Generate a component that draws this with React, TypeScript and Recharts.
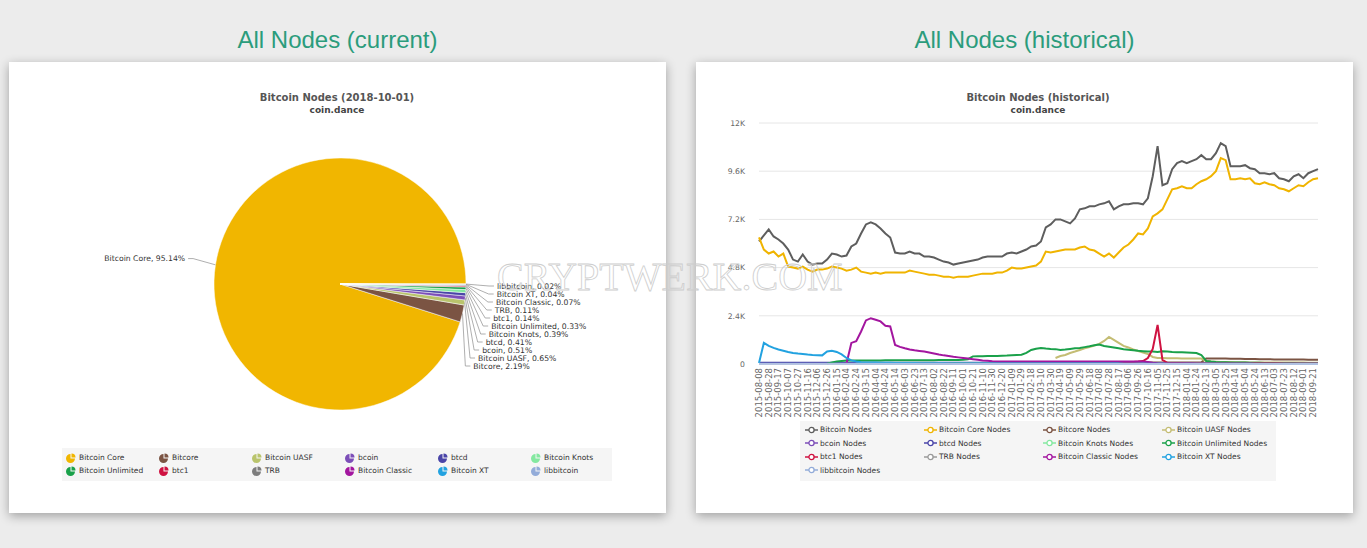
import React from 'react';
import { PieChart, Pie, Cell, Legend, LineChart, Line, XAxis, YAxis, CartesianGrid } from 'recharts';

const RAD = Math.PI / 180;

// snapshot 2018-10-01, share of all reachable nodes (%)
const clientNames = ['Bitcoin Core', 'Bitcore', 'Bitcoin UASF', 'bcoin', 'btcd', 'Bitcoin Knots', 'Bitcoin Unlimited', 'btc1', 'TRB', 'Bitcoin Classic', 'Bitcoin XT', 'libbitcoin'];
const clientShares = [95.14, 2.19, 0.65, 0.51, 0.41, 0.39, 0.33, 0.14, 0.11, 0.07, 0.04, 0.02];
const clientColors = ['#f1b600', '#7b5443', '#b9c46c', '#7c4eb8', '#4a45a8', '#84e8a0', '#1aa14a', '#cf1241', '#7d7d7d', '#a3169f', '#22a2e0', '#93acd9'];

// history: one sample every 10 days starting 2015-08-08, node counts in thousands
const firstDay = Date.UTC(2015, 7, 8);
const sampleCount = 116;
const historyDates = Array.from({ length: sampleCount }, (_, i) =>
  new Date(firstDay + i * 10 * 86400000).toISOString().slice(0, 10));

const nodeTotals = [
  6.1, 6.4, 6.7, 6.35, 6.2, 6.0, 5.7, 5.2, 5.1, 5.45,
  5.1, 4.95, 5.0, 5.0, 5.2, 5.5, 5.45, 5.35, 5.4, 5.85,
  6.0, 6.5, 6.95, 7.05, 6.95, 6.75, 6.5, 6.3, 5.55, 5.5,
  5.5, 5.6, 5.5, 5.5, 5.35, 5.35, 5.3, 5.2, 5.1, 5.05,
  4.95, 5.0, 5.05, 5.1, 5.15, 5.2, 5.3, 5.35, 5.35, 5.35,
  5.35, 5.5, 5.55, 5.5, 5.6, 5.7, 5.85, 5.9, 6.1, 6.8,
  6.95, 7.2, 7.2, 7.1, 7.0, 7.25, 7.7, 7.75, 7.85, 7.85,
  7.95, 8.0, 8.1, 7.7, 7.85, 7.95, 7.95, 8.0, 8.0, 7.95,
  8.25, 9.35, 10.85, 8.9, 9.0, 9.7, 10.0, 10.1, 10.0, 10.1,
  10.2, 10.4, 10.2, 10.2, 10.5, 11.0, 10.85, 9.85, 9.85, 9.85,
  9.9, 9.75, 9.7, 9.5, 9.5, 9.45, 9.5, 9.25, 9.2, 9.1,
  9.35, 9.45, 9.25, 9.5, 9.6, 9.7,
];
const coreNodes = [
  6.3, 5.7, 5.5, 5.6, 5.35, 5.5, 4.85, 4.8, 4.75, 4.85,
  4.7, 4.6, 4.7, 4.7, 4.75, 4.85, 4.8, 4.75, 4.65, 4.7,
  4.8, 4.6, 4.55, 4.5, 4.55, 4.5, 4.55, 4.55, 4.55, 4.55,
  4.55, 4.65, 4.6, 4.55, 4.5, 4.45, 4.45, 4.4, 4.35, 4.35,
  4.3, 4.35, 4.35, 4.35, 4.4, 4.45, 4.5, 4.5, 4.5, 4.55,
  4.55, 4.65, 4.8, 4.75, 4.75, 4.8, 4.85, 4.9, 5.1, 5.6,
  5.55, 5.6, 5.65, 5.7, 5.7, 5.7, 5.8, 5.85, 5.7, 5.65,
  5.5, 5.35, 5.5, 5.3, 5.55, 5.8, 5.95, 6.2, 6.5, 6.45,
  6.75, 7.35, 7.5, 7.7, 8.2, 8.7, 8.75, 8.85, 8.75, 8.75,
  8.95, 9.1, 9.2, 9.35, 9.6, 10.25, 10.15, 9.2, 9.2, 9.25,
  9.2, 9.25, 9.0, 8.95, 9.05, 8.95, 8.9, 8.75, 8.7, 8.6,
  8.75, 8.9, 8.85, 9.05, 9.2, 9.25,
];
const bitcoreNodes = [
  0.04, 0.04, 0.04, 0.04, 0.04, 0.04, 0.04, 0.04, 0.04, 0.04,
  0.04, 0.04, 0.04, 0.04, 0.04, 0.04, 0.04, 0.04, 0.04, 0.04,
  0.04, 0.04, 0.04, 0.04, 0.04, 0.04, 0.04, 0.04, 0.04, 0.04,
  0.04, 0.04, 0.04, 0.04, 0.04, 0.04, 0.04, 0.04, 0.04, 0.04,
  0.04, 0.04, 0.04, 0.04, 0.04, 0.04, 0.04, 0.04, 0.04, 0.04,
  0.04, 0.04, 0.04, 0.04, 0.04, 0.04, 0.04, 0.04, 0.04, 0.04,
  0.04, 0.04, 0.04, 0.04, 0.04, 0.04, 0.04, 0.04, 0.04, 0.04,
  0.05, 0.05, 0.05, 0.05, 0.05, 0.05, 0.05, 0.05, 0.05, 0.05,
  0.08, 0.08, 0.08, 0.08, 0.08, 0.08, 0.08, 0.08, 0.08, 0.08,
  0.08, 0.09, 0.28, 0.28, 0.27, 0.27, 0.27, 0.26, 0.26, 0.26,
  0.25, 0.25, 0.25, 0.24, 0.24, 0.24, 0.23, 0.23, 0.23, 0.22,
  0.22, 0.22, 0.22, 0.21, 0.21, 0.21,
];
// from sample 61
const uasfNodes = [
  0.3, 0.4, 0.45, 0.55, 0.62, 0.7, 0.78, 0.85, 0.92, 1.0,
  1.15, 1.35, 1.2, 1.05, 0.9, 0.82, 0.72, 0.65, 0.57, 0.5,
  0.35, 0.3, 0.3, 0.29, 0.29, 0.29, 0.28, 0.28, 0.28, 0.28,
  0.27, 0.15, 0.12, 0.11, 0.1, 0.1, 0.1, 0.09, 0.09, 0.09,
  0.08, 0.08, 0.08, 0.08, 0.08, 0.07, 0.07, 0.07, 0.07, 0.07,
  0.07, 0.07, 0.06, 0.06, 0.06,
];
// from sample 20
const bcoinNodes = [
  0.01, 0.01, 0.01, 0.01, 0.01, 0.01, 0.01, 0.01, 0.01, 0.01,
  0.02, 0.02, 0.02, 0.02, 0.02, 0.02, 0.02, 0.02, 0.02, 0.02,
  0.02, 0.02, 0.02, 0.02, 0.02, 0.02, 0.02, 0.02, 0.02, 0.02,
  0.03, 0.03, 0.03, 0.03, 0.03, 0.03, 0.03, 0.03, 0.03, 0.03,
  0.03, 0.03, 0.03, 0.03, 0.03, 0.03, 0.03, 0.03, 0.03, 0.03,
  0.04, 0.04, 0.04, 0.04, 0.04, 0.04, 0.04, 0.04, 0.04, 0.04,
  0.04, 0.04, 0.04, 0.04, 0.04, 0.04, 0.04, 0.04, 0.04, 0.04,
  0.05, 0.05, 0.05, 0.05, 0.05, 0.05, 0.05, 0.05, 0.05, 0.05,
  0.05, 0.05, 0.05, 0.05, 0.05, 0.05, 0.05, 0.05, 0.05, 0.05,
  0.05, 0.05, 0.05, 0.05, 0.05, 0.05,
];
const btcdNodes = [
  0.06, 0.06, 0.06, 0.06, 0.06, 0.06, 0.06, 0.06, 0.06, 0.06,
  0.06, 0.06, 0.06, 0.06, 0.06, 0.06, 0.06, 0.06, 0.06, 0.06,
  0.06, 0.06, 0.06, 0.06, 0.06, 0.06, 0.06, 0.06, 0.06, 0.06,
  0.06, 0.06, 0.06, 0.06, 0.06, 0.06, 0.06, 0.06, 0.06, 0.06,
  0.06, 0.06, 0.06, 0.06, 0.06, 0.06, 0.06, 0.06, 0.06, 0.06,
  0.06, 0.06, 0.06, 0.06, 0.06, 0.06, 0.06, 0.06, 0.06, 0.06,
  0.05, 0.05, 0.05, 0.05, 0.05, 0.05, 0.05, 0.05, 0.05, 0.05,
  0.05, 0.05, 0.05, 0.05, 0.05, 0.05, 0.05, 0.05, 0.05, 0.05,
  0.05, 0.05, 0.05, 0.05, 0.05, 0.05, 0.05, 0.05, 0.05, 0.05,
  0.04, 0.04, 0.04, 0.04, 0.04, 0.04, 0.04, 0.04, 0.04, 0.04,
  0.04, 0.04, 0.04, 0.04, 0.04, 0.04, 0.04, 0.04, 0.04, 0.04,
  0.04, 0.04, 0.04, 0.04, 0.04, 0.04,
];
// from sample 20
const knotsNodes = [
  0.01, 0.01, 0.01, 0.01, 0.01, 0.01, 0.01, 0.01, 0.01, 0.01,
  0.01, 0.01, 0.01, 0.01, 0.01, 0.01, 0.01, 0.01, 0.01, 0.01,
  0.02, 0.02, 0.02, 0.02, 0.02, 0.02, 0.02, 0.02, 0.02, 0.02,
  0.02, 0.02, 0.02, 0.02, 0.02, 0.02, 0.02, 0.02, 0.02, 0.02,
  0.03, 0.03, 0.03, 0.03, 0.03, 0.03, 0.03, 0.03, 0.03, 0.03,
  0.03, 0.03, 0.03, 0.03, 0.03, 0.03, 0.03, 0.03, 0.03, 0.03,
  0.03, 0.03, 0.03, 0.03, 0.03, 0.03, 0.03, 0.03, 0.03, 0.03,
  0.04, 0.04, 0.04, 0.04, 0.04, 0.04, 0.04, 0.04, 0.04, 0.04,
  0.04, 0.04, 0.04, 0.04, 0.04, 0.04, 0.04, 0.04, 0.04, 0.04,
  0.04, 0.04, 0.04, 0.04, 0.04, 0.04,
];
// from sample 14
const unlimitedNodes = [
  0.02, 0.08, 0.13, 0.15, 0.17, 0.17, 0.18, 0.18, 0.18, 0.18,
  0.18, 0.18, 0.19, 0.19, 0.19, 0.19, 0.19, 0.19, 0.19, 0.19,
  0.19, 0.19, 0.19, 0.2, 0.2, 0.2, 0.2, 0.2, 0.21, 0.24,
  0.38, 0.39, 0.39, 0.4, 0.4, 0.4, 0.41, 0.42, 0.44, 0.45,
  0.46, 0.55, 0.7, 0.76, 0.8, 0.77, 0.75, 0.74, 0.7, 0.72,
  0.75, 0.78, 0.8, 0.84, 0.88, 0.93, 0.97, 0.9, 0.86, 0.82,
  0.78, 0.74, 0.71, 0.69, 0.66, 0.64, 0.62, 0.62, 0.6, 0.64,
  0.62, 0.6, 0.59, 0.58, 0.57, 0.56, 0.55, 0.45, 0.15, 0.12,
  0.1, 0.09, 0.09, 0.08, 0.08, 0.07, 0.07, 0.06, 0.06, 0.06,
  0.05, 0.05, 0.05, 0.04, 0.04, 0.04, 0.04, 0.03, 0.03, 0.03,
  0.03, 0.03,
];
// from sample 74
const btc1Nodes = [
  0.03, 0.05, 0.08, 0.1, 0.12, 0.15, 0.3, 0.75, 1.95, 0.2,
  0.06, 0.05, 0.05, 0.05, 0.04, 0.04, 0.04, 0.04, 0.03, 0.03,
  0.03, 0.03, 0.03, 0.02, 0.02, 0.02, 0.02, 0.02, 0.02, 0.02,
  0.02, 0.02, 0.02, 0.02, 0.015, 0.015, 0.015, 0.015, 0.015, 0.015,
  0.014, 0.014,
];
// from sample 30
const trbNodes = [
  0.01, 0.01, 0.01, 0.01, 0.01, 0.01, 0.01, 0.01, 0.01, 0.01,
  0.01, 0.01, 0.01, 0.01, 0.01, 0.01, 0.01, 0.01, 0.01, 0.01,
  0.01, 0.01, 0.01, 0.01, 0.01, 0.01, 0.01, 0.01, 0.01, 0.01,
  0.01, 0.01, 0.01, 0.01, 0.01, 0.01, 0.01, 0.01, 0.01, 0.01,
  0.01, 0.01, 0.01, 0.01, 0.01, 0.01, 0.01, 0.01, 0.01, 0.01,
  0.01, 0.01, 0.01, 0.01, 0.01, 0.01, 0.01, 0.01, 0.01, 0.01,
  0.01, 0.01, 0.01, 0.01, 0.01, 0.01, 0.01, 0.01, 0.01, 0.01,
  0.01, 0.01, 0.01, 0.01, 0.01, 0.01, 0.01, 0.01, 0.01, 0.01,
  0.01, 0.01, 0.01, 0.01, 0.01, 0.01,
];
// from sample 18
const classicNodes = [
  0.02, 1.05, 1.13, 1.62, 2.17, 2.28, 2.2, 2.12, 1.9, 1.87,
  0.95, 0.85, 0.78, 0.72, 0.68, 0.65, 0.62, 0.57, 0.52, 0.47,
  0.43, 0.4, 0.36, 0.33, 0.3, 0.27, 0.24, 0.21, 0.18, 0.16,
  0.14, 0.13, 0.12, 0.12, 0.12, 0.12, 0.12, 0.12, 0.12, 0.12,
  0.12, 0.12, 0.12, 0.13, 0.13, 0.13, 0.13, 0.13, 0.13, 0.13,
  0.13, 0.13, 0.13, 0.12, 0.12, 0.12, 0.12, 0.12, 0.12, 0.12,
  0.12, 0.12, 0.1, 0.06, 0.04, 0.03, 0.02, 0.02, 0.02, 0.02,
  0.02, 0.02, 0.01, 0.01, 0.01, 0.01, 0.01, 0.01, 0.01, 0.01,
  0.01, 0.01, 0.01, 0.01, 0.01, 0.01, 0.01, 0.01, 0.01, 0.01,
  0.01, 0.01, 0.007, 0.007, 0.007, 0.007, 0.007, 0.007,
];
const xtNodes = [
  0.05, 1.05, 0.9, 0.8, 0.72, 0.66, 0.6, 0.55, 0.52, 0.5,
  0.47, 0.45, 0.44, 0.43, 0.62, 0.66, 0.6, 0.48, 0.3, 0.18,
  0.12, 0.09, 0.08, 0.07, 0.07, 0.06, 0.06, 0.06, 0.05, 0.05,
  0.05, 0.05, 0.05, 0.04, 0.04, 0.04, 0.04, 0.04, 0.04, 0.03,
  0.03, 0.03, 0.03, 0.03, 0.03, 0.03, 0.03, 0.03, 0.03, 0.03,
  0.03, 0.03, 0.03, 0.02, 0.02, 0.02, 0.02, 0.02, 0.02, 0.02,
  0.02, 0.02, 0.02, 0.02, 0.02, 0.02, 0.02, 0.02, 0.02, 0.02,
  0.02, 0.02, 0.02, 0.02, 0.02, 0.01, 0.01, 0.01, 0.01, 0.01,
  0.01, 0.01, 0.01, 0.01, 0.01, 0.01, 0.01, 0.01, 0.01, 0.01,
  0.01, 0.01, 0.01, 0.01, 0.01, 0.01, 0.01, 0.01, 0.01, 0.01,
  0.01, 0.01, 0.005, 0.005, 0.005, 0.005, 0.005, 0.005, 0.005, 0.005,
  0.004, 0.004, 0.004, 0.004, 0.004, 0.004,
];
const libbitcoinNodes = [
  0.01, 0.01, 0.01, 0.01, 0.01, 0.01, 0.01, 0.01, 0.01, 0.01,
  0.01, 0.01, 0.01, 0.01, 0.01, 0.01, 0.01, 0.01, 0.01, 0.01,
  0.01, 0.01, 0.01, 0.01, 0.01, 0.01, 0.01, 0.01, 0.01, 0.01,
  0.01, 0.01, 0.01, 0.01, 0.01, 0.01, 0.01, 0.01, 0.01, 0.01,
  0.005, 0.005, 0.005, 0.005, 0.005, 0.005, 0.005, 0.005, 0.005, 0.005,
  0.005, 0.005, 0.005, 0.005, 0.005, 0.005, 0.005, 0.005, 0.005, 0.005,
  0.005, 0.005, 0.005, 0.005, 0.005, 0.005, 0.005, 0.005, 0.005, 0.005,
  0.005, 0.005, 0.005, 0.005, 0.005, 0.005, 0.005, 0.005, 0.005, 0.005,
  0.003, 0.003, 0.003, 0.003, 0.003, 0.003, 0.003, 0.003, 0.003, 0.003,
  0.003, 0.003, 0.003, 0.003, 0.003, 0.003, 0.003, 0.003, 0.003, 0.003,
  0.003, 0.003, 0.003, 0.003, 0.003, 0.003, 0.003, 0.003, 0.003, 0.003,
  0.002, 0.002, 0.002, 0.002, 0.002, 0.002,
];

const historyNames = ['Bitcoin Nodes', 'Bitcoin Core Nodes', 'Bitcore Nodes', 'Bitcoin UASF Nodes', 'bcoin Nodes', 'btcd Nodes', 'Bitcoin Knots Nodes', 'Bitcoin Unlimited Nodes', 'btc1 Nodes', 'TRB Nodes', 'Bitcoin Classic Nodes', 'Bitcoin XT Nodes', 'libbitcoin Nodes'];
const historyColors = ['#5e5e5e', '#f0b400', '#7b5443', '#c4bd74', '#7c4eb8', '#4a45a8', '#84e8a0', '#1aa14a', '#cf1241', '#9a9a9a', '#a3169f', '#22a2e0', '#93acd9'];
const historySeries = [nodeTotals, coreNodes, bitcoreNodes, uasfNodes, bcoinNodes, btcdNodes, knotsNodes, unlimitedNodes, btc1Nodes, trbNodes, classicNodes, xtNodes, libbitcoinNodes];
const historyFirst = [0, 0, 0, 61, 20, 0, 20, 14, 74, 30, 18, 0, 0];
const yTicks = [0, 2.4, 4.8, 7.2, 9.6, 12];

const pieData = clientNames.map((name, i) => ({ name, share: clientShares[i], fill: clientColors[i] }));

const historyData = historyDates.map((date, i) => {
  const row: Record<string, string | number | null> = { date };
  historySeries.forEach((vals, k) => {
    const j = i - historyFirst[k];
    row['s' + k] = j >= 0 && j < vals.length ? vals[j] : null;
  });
  return row;
});

const chartFont = 'DejaVu Sans, sans-serif';

const renderPieLabel = (props: any) => {
  const { cx, cy, midAngle, outerRadius, index, name, value } = props;
  const R = outerRadius + 28;
  const ex = cx + outerRadius * Math.cos(-midAngle * RAD);
  const ey = cy + outerRadius * Math.sin(-midAngle * RAD);
  let ly: number;
  let side: number;
  if (index === 0) {
    ly = cy + R * Math.sin(-midAngle * RAD) - 2;
    side = Math.cos(-midAngle * RAD) < 0 ? -1 : 1;
  } else {
    // small slices get stacked below each other on the right
    ly = cy + 2 + (clientNames.length - 1 - index) * 8;
    side = 1;
  }
  const lx = cx + side * Math.sqrt(R * R - (ly - cy) * (ly - cy));
  return (
    <g>
      <path d={`M${ex},${ey}L${lx - side * 5},${ly}L${lx},${ly}`} stroke="#9a9a9a" strokeWidth={0.8} fill="none" />
      <text x={lx + side * 3} y={ly} textAnchor={side < 0 ? 'end' : 'start'} dominantBaseline="central"
        fontFamily={chartFont} fontSize={7.7} fill="#333">
        {`${name}, ${Number(value).toFixed(2)}%`}
      </text>
    </g>
  );
};

const PieIcon = ({ color }: { color: string }) => (
  <svg width={10} height={10} style={{ flex: 'none' }}>
    <path d="M4.5,5.5 L4.5,1 A4.5,4.5 0 1,0 9,5.5 Z" fill={color} />
    <path d="M5.5,4.5 L5.5,0.5 A4,4 0 0,1 9.5,4.5 Z" fill={color} />
  </svg>
);

// legends keep the series order (recharts would sort them by name)
const renderPieLegend = () => (
  <div style={{ background: '#f5f5f5', width: 550, height: 33, boxSizing: 'border-box', padding: '3px 0 0 4px', display: 'grid', gridTemplateColumns: 'repeat(6, 93px)', gridAutoRows: '13px', fontFamily: chartFont, fontSize: 7.5, color: '#333' }}>
    {clientNames.map((name, i) => (
      <div key={name} style={{ display: 'flex', alignItems: 'center', whiteSpace: 'nowrap' }}>
        <PieIcon color={clientColors[i]} />
        <span style={{ marginLeft: 3 }}>{name}</span>
      </div>
    ))}
  </div>
);

const renderLineLegend = () => (
  <div style={{ background: '#f5f5f5', width: 476, height: 60, boxSizing: 'border-box', padding: '2px 0 0 5px', display: 'grid', gridTemplateColumns: 'repeat(4, 119px)', gridAutoRows: '13.5px', fontFamily: chartFont, fontSize: 7.5, color: '#333' }}>
    {historyNames.map((name, i) => (
      <div key={name} style={{ display: 'flex', alignItems: 'center', whiteSpace: 'nowrap' }}>
        <svg width={13} height={8} style={{ flex: 'none' }}>
          <line x1={0} y1={4} x2={13} y2={4} stroke={historyColors[i]} strokeWidth={1.5} />
          <circle cx={6.5} cy={4} r={2.6} fill="#fff" stroke={historyColors[i]} strokeWidth={1.3} />
        </svg>
        <span style={{ marginLeft: 2 }}>{name}</span>
      </div>
    ))}
  </div>
);

const DateTick = (props: any) => {
  const { x, y, payload } = props;
  return (
    <text x={x} y={y} transform={`rotate(-90, ${x}, ${y})`} textAnchor="end" dominantBaseline="central"
      fontFamily={chartFont} fontSize={8.5} fill="#666">
      {payload.value}
    </text>
  );
};

const fmtK = (v: number) => (v === 0 ? '0' : `${v}K`);

const cardStyle: React.CSSProperties = {
  position: 'absolute', top: 62, width: 657, height: 451, background: '#fff',
  boxShadow: '0 3px 10px rgba(0,0,0,0.32)',
};
const headingStyle: React.CSSProperties = {
  position: 'absolute', top: 26, width: 657, textAlign: 'center', lineHeight: '28px',
  fontFamily: 'Liberation Sans, Arial, sans-serif', fontSize: 24, color: '#2b9c7c',
};
const titleStyle: React.CSSProperties = {
  position: 'absolute', textAlign: 'center', fontFamily: chartFont, fontWeight: 'bold', color: '#555', whiteSpace: 'nowrap', zIndex: 2,
};

export default function App() {
  return (
    <div style={{ position: 'absolute', left: 0, top: 0, width: 1367, height: 548, background: '#ececec', overflow: 'hidden' }}>
      <div style={{ ...headingStyle, left: 9 }}>All Nodes (current)</div>
      <div style={{ ...headingStyle, left: 696 }}>All Nodes (historical)</div>

      <div style={{ ...cardStyle, left: 9 }}>
        <div style={{ ...titleStyle, left: 228, width: 200, top: 30, fontSize: 10 }}>Bitcoin Nodes (2018-10-01)</div>
        <div style={{ ...titleStyle, left: 228, width: 200, top: 43, fontSize: 9, color: '#444' }}>coin.dance</div>
        <PieChart width={657} height={451} margin={{ top: 0, right: 0, bottom: 0, left: 0 }}>
          <Pie data={pieData} dataKey="share" nameKey="name" cx={331} cy={222} outerRadius={126}
            startAngle={0} endAngle={360} stroke="#fff" strokeWidth={0.5}
            label={renderPieLabel} labelLine={false} isAnimationActive={false}>
            {pieData.map((d, i) => <Cell key={d.name} fill={clientColors[i]} />)}
          </Pie>
          <Legend verticalAlign="middle" align="center" layout="horizontal" content={renderPieLegend}
            wrapperStyle={{ top: 386, left: 53, width: 550, height: 33 }} />
        </PieChart>
      </div>

      <div style={{ ...cardStyle, left: 696 }}>
        <div style={{ ...titleStyle, left: 242, width: 200, top: 30, fontSize: 10 }}>Bitcoin Nodes (historical)</div>
        <div style={{ ...titleStyle, left: 242, width: 200, top: 43, fontSize: 9, color: '#444' }}>coin.dance</div>
        <LineChart width={657} height={451} data={historyData} margin={{ top: 61, right: 35, bottom: 89, left: 0 }}>
          <CartesianGrid vertical={false} stroke="#e6e6e6" />
          <XAxis dataKey="date" interval={1} tick={<DateTick />} tickLine={false} tickSize={0} tickMargin={4}
            height={60} axisLine={{ stroke: '#ccd6eb' }} />
          <YAxis domain={[0, 12]} ticks={yTicks} tickFormatter={fmtK} width={63} axisLine={false} tickLine={false}
            tickSize={6} tickMargin={8} tick={{ fontSize: 7.7, fill: '#666', fontFamily: chartFont }} />
          {historyNames.map((name, k) => (
            <Line key={name} type="linear" dataKey={'s' + k} name={name} stroke={historyColors[k]} strokeWidth={2}
              dot={false} isAnimationActive={false} />
          ))}
          <Legend verticalAlign="middle" align="center" layout="horizontal" content={renderLineLegend}
            wrapperStyle={{ top: 359, left: 104, width: 476, height: 60 }} />
        </LineChart>
      </div>

      <svg width={1367} height={548} style={{ position: 'absolute', left: 0, top: 0, pointerEvents: 'none' }}>
        <text x={497} y={290} fontFamily="Liberation Serif, serif" fontSize={40}
          fill="none" stroke="#cdcdcd" strokeWidth={0.8}>CRYPTWERK.COM</text>
      </svg>
    </div>
  );
}
